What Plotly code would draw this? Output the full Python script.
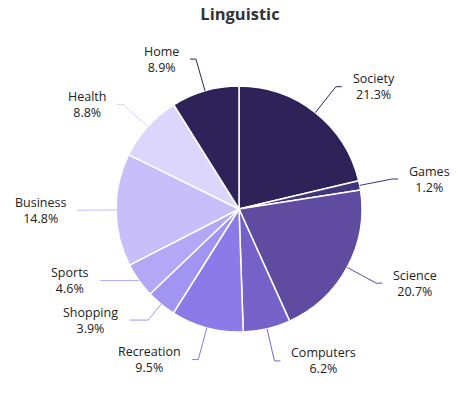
import math
import plotly.graph_objects as go

# ---- data ----
categories = ["Society", "Games", "Science", "Computers", "Recreation",
              "Shopping", "Sports", "Business", "Health", "Home"]
values = [21.3, 1.2, 20.7, 6.2, 9.5, 3.9, 4.6, 14.8, 8.8, 8.9]
palette = ["#2e2259", "#3f3578", "#5f4ca1", "#7462c9", "#8b7ae7",
           "#a295f1", "#b4a8f6", "#c8befa", "#dcd6fd"]
title_text = "Linguistic"

# ---- layout geometry (page pixels) ----
W, H = 469, 399
CX, CY, R = 239, 209, 123
R2 = 156      # radius of leader-line elbow
HLEN = 6      # horizontal leader segment
GAP = 9       # gap between line end and text
MINSP = 39.5  # min vertical spacing between labels on a side
FONT = "Open Sans"

colors = [palette[i % len(palette)] for i in range(len(values))]


def px(x):
    return x / W


def py(y):
    return 1 - y / H


fig = go.Figure()
fig.add_trace(go.Pie(
    labels=categories, values=values, sort=False, direction="clockwise",
    rotation=0, textinfo="none", hoverinfo="label+percent",
    marker=dict(colors=colors, line=dict(color="white", width=1.5)),
    domain=dict(x=[px(CX - R), px(CX + R)], y=[py(CY + R), py(CY - R)]),
    showlegend=False,
))

# ---- label placement computed from the data ----
total = sum(values)
cum = 0.0
items = []
for i, v in enumerate(values):
    mid = (cum + v / 2) / total * 2 * math.pi
    cum += v
    s, c = math.sin(mid), math.cos(mid)
    items.append(dict(i=i, s=s, c=c, y=CY - R2 * c,
                      side="right" if s >= 0 else "left"))

for side in ("left", "right"):
    grp = sorted([it for it in items if it["side"] == side], key=lambda d: d["y"])
    for k in range(len(grp) - 2, -1, -1):
        if grp[k]["y"] > grp[k + 1]["y"] - MINSP:
            grp[k]["y"] = grp[k + 1]["y"] - MINSP

shapes = []
annotations = []
for it in items:
    s, c, y = it["s"], it["c"], it["y"]
    col = colors[it["i"]]
    ex, ey = CX + R * s, CY - R * c
    if abs(c) > 1e-3:
        t = (y - CY) / (-c)
        t = max(R, min(R2, t))
    else:
        t = R2
    bx = CX + t * s
    dy = y - CY
    circ = math.sqrt(max(R2 ** 2 - dy ** 2, 0))
    if it["side"] == "right":
        endx = max(bx + HLEN, CX + circ)
        tx, anchor = endx + GAP, "left"
    else:
        endx = min(bx - HLEN, CX - circ)
        tx, anchor = endx - GAP, "right"
    path = f"M {px(ex)} {py(ey)} L {px(bx)} {py(y)} L {px(endx)} {py(y)}"
    shapes.append(dict(type="path", xref="paper", yref="paper", path=path,
                       line=dict(color=col, width=1)))
    lbl = f"{categories[it['i']]}<br>{values[it['i']]:.1f}%"
    annotations.append(dict(xref="paper", yref="paper", x=px(tx), y=py(y),
                            xanchor=anchor, yanchor="middle", align="center",
                            text=lbl, showarrow=False,
                            font=dict(family=FONT, size=12.5, color="#222222")))

fig.update_layout(
    width=W, height=H, margin=dict(l=0, r=0, t=0, b=0),
    paper_bgcolor="white", plot_bgcolor="white",
    title=dict(text=f"<b>{title_text}</b>", x=px(240), y=py(14),
               xanchor="center", yanchor="middle",
               font=dict(family=FONT, size=16.5, color="#333333")),
    shapes=shapes, annotations=annotations,
)

fig.write_html(
    "out.html",
    config={"displayModeBar": False},
    post_script="document.body.style.margin='0';document.body.style.overflow='hidden';",
)
